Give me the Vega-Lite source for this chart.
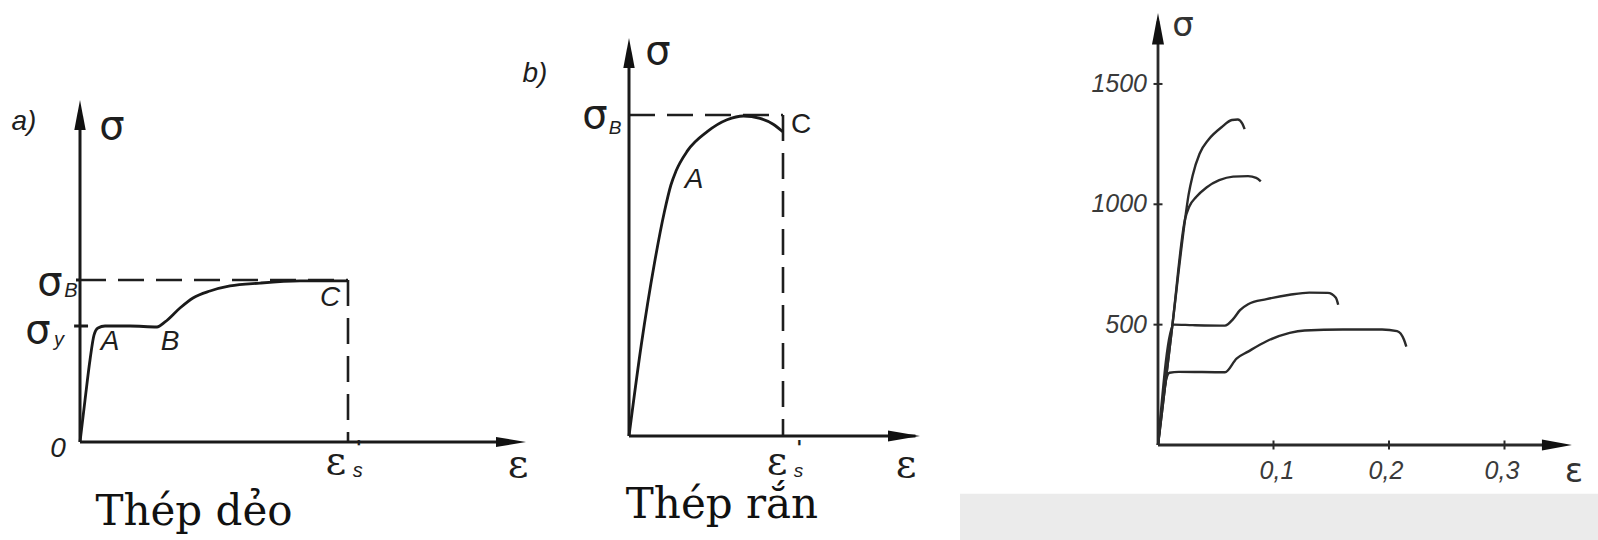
{
  "$schema": "https://vega.github.io/schema/vega-lite/v6.json",
  "padding": 0,
  "spacing": 0,
  "bounds": "flush",
  "background": "white",
  "config": {"view": {"stroke": null}},
  "datasets": {
    "a_curve": [
      {"e": 0, "s": 0}, {"e": 0.0187, "s": 0.259}, {"e": 0.0373, "s": 0.506}, {"e": 0.0522, "s": 0.66},
      {"e": 0.0672, "s": 0.704}, {"e": 0.0933, "s": 0.716}, {"e": 0.1866, "s": 0.716}, {"e": 0.2873, "s": 0.71},
      {"e": 0.3172, "s": 0.741}, {"e": 0.3731, "s": 0.827}, {"e": 0.4216, "s": 0.889}, {"e": 0.4851, "s": 0.932},
      {"e": 0.5597, "s": 0.963}, {"e": 0.6716, "s": 0.981}, {"e": 0.8209, "s": 0.994}, {"e": 0.9963, "s": 0.994}
    ],
    "a_dash": [{"e": 0, "s": 1, "e2": 1, "s2": 1}, {"e": 1, "s": 1, "e2": 1, "s2": 0}],
    "a_axes": [{"e": 0, "s": 0, "e2": 1.62, "s2": 0}, {"e": 0, "s": 0, "e2": 0, "s2": 2.05}, {"e": -0.022, "s": 0.716, "e2": 0.03, "s2": 0.716}, {"e": -0.015, "s": 1, "e2": 0, "s2": 1}],
    "a_arrow_x": [{"e": 1.6642, "s": 0}],
    "a_arrow_y": [{"e": 0, "s": 2.1111}],
    "a_sigma": [{"e": 0.1194, "s": 1.9444, "t": "σ"}, {"e": -0.1119, "s": 0.9815, "t": "σ"}, {"e": -0.1567, "s": 0.6852, "t": "σ"}],
    "a_eps": [{"e": 0.955, "s": -0.1235, "t": "ε"}, {"e": 1.6343, "s": -0.142, "t": "ε"}],
    "a_sub": [{"e": -0.0336, "s": 0.935, "t": "B"}, {"e": -0.0784, "s": 0.6296, "t": "y"}, {"e": 1.036, "s": -0.179, "t": "s"}],
    "a_sup": [{"e": 1.04, "s": -0.04, "t": "'"}],
    "a_ital": [{"e": -0.209, "s": 1.9753, "t": "a)"}, {"e": -0.0821, "s": -0.0432, "t": "0"}, {"e": 0.1119, "s": 0.6173, "t": "A"}, {"e": 0.3358, "s": 0.6173, "t": "B"}, {"e": 0.9328, "s": 0.8889, "t": "C"}],
    "a_title": [{"e": 0.4254, "s": -0.5123, "t": "Thép dẻo"}],

    "b_curve": [
      {"e": 0, "s": 0}, {"e": 0.0792, "s": 0.2819}, {"e": 0.1649, "s": 0.5374}, {"e": 0.2292, "s": 0.6969},
      {"e": 0.2721, "s": 0.7819}, {"e": 0.3045, "s": 0.8246}, {"e": 0.3792, "s": 0.8882}, {"e": 0.5078, "s": 0.948},
      {"e": 0.6364, "s": 0.985}, {"e": 0.7435, "s": 0.9969}, {"e": 0.8506, "s": 0.9894}, {"e": 0.9364, "s": 0.9713},
      {"e": 1.0006, "s": 0.947}
    ],
    "b_dash": [{"e": 0, "s": 1, "e2": 1, "s2": 1}, {"e": 1, "s": 1, "e2": 1, "s2": 0}],
    "b_axes": [{"e": 0, "s": 0, "e2": 1.86, "s2": 0}, {"e": 0, "s": 0, "e2": 0, "s2": 1.19}],
    "b_arrow_x": [{"e": 1.8896, "s": 0}],
    "b_arrow_y": [{"e": 0, "s": 1.2399}],
    "b_sigma": [{"e": 0.1883, "s": 1.1963, "t": "σ"}, {"e": -0.2208, "s": 0.9969, "t": "σ"}],
    "b_eps": [{"e": 0.962, "s": -0.081, "t": "ε"}, {"e": 1.7987, "s": -0.0903, "t": "ε"}],
    "b_sub": [{"e": -0.0909, "s": 0.9595, "t": "B"}, {"e": 1.1, "s": -0.109, "t": "s"}],
    "b_sup": [{"e": 1.106, "s": -0.038, "t": "'"}],
    "b_ital": [{"e": -0.6104, "s": 1.1277, "t": "b)"}, {"e": 0.4221, "s": 0.7975, "t": "A"}],
    "b_upright": [{"e": 1.1169, "s": 0.9688, "t": "C"}],
    "b_title": [{"e": 0.6039, "s": -0.2555, "t": "Thép rắn"}],

    "c_band": [{"e": -0.2, "e2": 0.4, "s": -203, "s2": -420}],
    "c_axes": [{"e": 0, "s": 0, "e2": 0.345, "s2": 0}, {"e": 0, "s": 0, "e2": 0, "s2": 1760}],
    "c_arrow_x": [{"e": 0.3584, "s": 0}],
    "c_arrow_y": [{"e": 0, "s": 1794.8}],
    "c_xticks": [{"e": 0.1, "s": 0}, {"e": 0.2, "s": 0}, {"e": 0.3, "s": 0}],
    "c_yticks": [{"e": 0, "s": 500}, {"e": 0, "s": 1000}, {"e": 0, "s": 1500}],
    "c_curves": [
      {"id": "c1", "e": 0, "s": 0}, {"id": "c1", "e": 0.0125, "s": 500}, {"id": "c1", "e": 0.0235, "s": 940},
      {"id": "c1", "e": 0.0265, "s": 1040}, {"id": "c1", "e": 0.03, "s": 1120}, {"id": "c1", "e": 0.036, "s": 1210},
      {"id": "c1", "e": 0.044, "s": 1270}, {"id": "c1", "e": 0.055, "s": 1320}, {"id": "c1", "e": 0.064, "s": 1350},
      {"id": "c1", "e": 0.069, "s": 1352}, {"id": "c1", "e": 0.073, "s": 1335}, {"id": "c1", "e": 0.075, "s": 1312},
      {"id": "c2", "e": 0, "s": 0}, {"id": "c2", "e": 0.0125, "s": 500}, {"id": "c2", "e": 0.0235, "s": 940},
      {"id": "c2", "e": 0.027, "s": 990}, {"id": "c2", "e": 0.033, "s": 1030}, {"id": "c2", "e": 0.042, "s": 1070},
      {"id": "c2", "e": 0.053, "s": 1100}, {"id": "c2", "e": 0.065, "s": 1115}, {"id": "c2", "e": 0.078, "s": 1117},
      {"id": "c2", "e": 0.085, "s": 1110}, {"id": "c2", "e": 0.089, "s": 1095},
      {"id": "c3", "e": 0, "s": 0}, {"id": "c3", "e": 0.0135, "s": 500}, {"id": "c3", "e": 0.03, "s": 498},
      {"id": "c3", "e": 0.058, "s": 496}, {"id": "c3", "e": 0.065, "s": 523}, {"id": "c3", "e": 0.071, "s": 560},
      {"id": "c3", "e": 0.078, "s": 585}, {"id": "c3", "e": 0.094, "s": 606}, {"id": "c3", "e": 0.114, "s": 624},
      {"id": "c3", "e": 0.131, "s": 633}, {"id": "c3", "e": 0.147, "s": 632}, {"id": "c3", "e": 0.154, "s": 612},
      {"id": "c3", "e": 0.156, "s": 583},
      {"id": "c4", "e": 0, "s": 0}, {"id": "c4", "e": 0.0075, "s": 280}, {"id": "c4", "e": 0.01, "s": 300},
      {"id": "c4", "e": 0.018, "s": 304}, {"id": "c4", "e": 0.058, "s": 302}, {"id": "c4", "e": 0.068, "s": 359},
      {"id": "c4", "e": 0.078, "s": 388}, {"id": "c4", "e": 0.094, "s": 431}, {"id": "c4", "e": 0.114, "s": 466},
      {"id": "c4", "e": 0.127, "s": 476}, {"id": "c4", "e": 0.16, "s": 480}, {"id": "c4", "e": 0.194, "s": 480},
      {"id": "c4", "e": 0.207, "s": 473}, {"id": "c4", "e": 0.213, "s": 437}, {"id": "c4", "e": 0.215, "s": 409}
    ],
    "c_ylabels": [{"e": -0.0095, "s": 1500, "t": "1500"}, {"e": -0.0095, "s": 1000, "t": "1000"}, {"e": -0.0095, "s": 500, "t": "500"}],
    "c_xlabels": [{"e": 0.103, "s": -108, "t": "0,1"}, {"e": 0.1974, "s": -108, "t": "0,2"}, {"e": 0.2978, "s": -108, "t": "0,3"}],
    "c_sym": [{"e": 0.0216, "s": 1740.8, "t": "σ"}, {"e": 0.3602, "s": -112, "t": "ε"}]
  },
  "hconcat": [
    {
      "width": 520,
      "height": 540,
      "encoding": {
        "x": {"field": "e", "type": "quantitative", "scale": {"domain": [-0.29851, 1.64179], "nice": false, "zero": false}, "axis": null},
        "y": {"field": "s", "type": "quantitative", "scale": {"domain": [-0.60494, 2.7284], "nice": false, "zero": false}, "axis": null}
      },
      "layer": [
        {"data": {"name": "a_dash"}, "mark": {"type": "rule", "strokeDash": [26, 12], "strokeWidth": 2.6, "color": "#1e1e1e"}, "encoding": {"x2": {"field": "e2"}, "y2": {"field": "s2"}}},
        {"data": {"name": "a_axes"}, "mark": {"type": "rule", "strokeWidth": 3, "color": "#1a1a1a"}, "encoding": {"x2": {"field": "e2"}, "y2": {"field": "s2"}}},
        {"data": {"name": "a_curve"}, "mark": {"type": "line", "interpolate": "monotone", "strokeWidth": 2.8, "color": "#1a1a1a"}},
        {"data": {"name": "a_arrow_x"}, "mark": {"type": "point", "shape": "M0,0L-2,-0.34L-2,0.34Z", "size": 900, "filled": true, "opacity": 1, "color": "#111111", "strokeWidth": 0}},
        {"data": {"name": "a_arrow_y"}, "mark": {"type": "point", "shape": "M0,0L-0.38,2L0.38,2Z", "size": 900, "filled": true, "opacity": 1, "color": "#111111", "strokeWidth": 0}},
        {"data": {"name": "a_sigma"}, "mark": {"type": "text", "font": "DejaVu Sans", "fontSize": 40, "color": "#1e1e1e", "baseline": "middle", "align": "center"}, "encoding": {"text": {"field": "t"}}},
        {"data": {"name": "a_eps"}, "mark": {"type": "text", "font": "DejaVu Serif", "fontSize": 40, "color": "#1e1e1e", "baseline": "middle", "align": "center"}, "encoding": {"text": {"field": "t"}}},
        {"data": {"name": "a_sub"}, "mark": {"type": "text", "font": "Liberation Sans", "fontStyle": "italic", "fontSize": 20, "color": "#1e1e1e", "baseline": "middle", "align": "center"}, "encoding": {"text": {"field": "t"}}},
        {"data": {"name": "a_sup"}, "mark": {"type": "text", "font": "DejaVu Sans", "fontWeight": "bold", "fontSize": 20, "color": "#1e1e1e", "baseline": "middle", "align": "center"}, "encoding": {"text": {"field": "t"}}},
        {"data": {"name": "a_ital"}, "mark": {"type": "text", "font": "Liberation Sans", "fontStyle": "italic", "fontSize": 28, "color": "#1e1e1e", "baseline": "middle", "align": "center"}, "encoding": {"text": {"field": "t"}}},
        {"data": {"name": "a_title"}, "mark": {"type": "text", "font": "DejaVu Serif", "fontSize": 42, "color": "#111111", "baseline": "alphabetic", "align": "center"}, "encoding": {"text": {"field": "t"}}}
      ]
    },
    {
      "width": 440,
      "height": 540,
      "encoding": {
        "x": {"field": "e", "type": "quantitative", "scale": {"domain": [-0.70779, 2.14935], "nice": false, "zero": false}, "axis": null},
        "y": {"field": "s", "type": "quantitative", "scale": {"domain": [-0.32399, 1.35826], "nice": false, "zero": false}, "axis": null}
      },
      "layer": [
        {"data": {"name": "b_dash"}, "mark": {"type": "rule", "strokeDash": [26, 12], "strokeWidth": 2.6, "color": "#1e1e1e"}, "encoding": {"x2": {"field": "e2"}, "y2": {"field": "s2"}}},
        {"data": {"name": "b_axes"}, "mark": {"type": "rule", "strokeWidth": 3, "color": "#1a1a1a"}, "encoding": {"x2": {"field": "e2"}, "y2": {"field": "s2"}}},
        {"data": {"name": "b_curve"}, "mark": {"type": "line", "interpolate": "monotone", "strokeWidth": 2.8, "color": "#1a1a1a"}},
        {"data": {"name": "b_arrow_x"}, "mark": {"type": "point", "shape": "M0,0L-2,-0.34L-2,0.34Z", "size": 1024, "filled": true, "opacity": 1, "color": "#111111", "strokeWidth": 0}},
        {"data": {"name": "b_arrow_y"}, "mark": {"type": "point", "shape": "M0,0L-0.38,2L0.38,2Z", "size": 900, "filled": true, "opacity": 1, "color": "#111111", "strokeWidth": 0}},
        {"data": {"name": "b_sigma"}, "mark": {"type": "text", "font": "DejaVu Sans", "fontSize": 40, "color": "#1e1e1e", "baseline": "middle", "align": "center"}, "encoding": {"text": {"field": "t"}}},
        {"data": {"name": "b_eps"}, "mark": {"type": "text", "font": "DejaVu Serif", "fontSize": 40, "color": "#1e1e1e", "baseline": "middle", "align": "center"}, "encoding": {"text": {"field": "t"}}},
        {"data": {"name": "b_sub"}, "mark": {"type": "text", "font": "Liberation Sans", "fontStyle": "italic", "fontSize": 19, "color": "#1e1e1e", "baseline": "middle", "align": "center"}, "encoding": {"text": {"field": "t"}}},
        {"data": {"name": "b_sup"}, "mark": {"type": "text", "font": "DejaVu Sans", "fontWeight": "bold", "fontSize": 20, "color": "#1e1e1e", "baseline": "middle", "align": "center"}, "encoding": {"text": {"field": "t"}}},
        {"data": {"name": "b_ital"}, "mark": {"type": "text", "font": "Liberation Sans", "fontStyle": "italic", "fontSize": 28, "color": "#1e1e1e", "baseline": "middle", "align": "center"}, "encoding": {"text": {"field": "t"}}},
        {"data": {"name": "b_upright"}, "mark": {"type": "text", "font": "Liberation Sans", "fontSize": 28, "color": "#1e1e1e", "baseline": "middle", "align": "center"}, "encoding": {"text": {"field": "t"}}},
        {"data": {"name": "b_title"}, "mark": {"type": "text", "font": "DejaVu Serif", "fontSize": 42, "color": "#111111", "baseline": "alphabetic", "align": "center"}, "encoding": {"text": {"field": "t"}}}
      ]
    },
    {
      "width": 638,
      "height": 540,
      "encoding": {
        "x": {"field": "e", "type": "quantitative", "scale": {"domain": [-0.171429, 0.380952], "nice": false, "zero": false}, "axis": null},
        "y": {"field": "s", "type": "quantitative", "scale": {"domain": [-394.68, 1848.77], "nice": false, "zero": false}, "axis": null}
      },
      "layer": [
        {"data": {"name": "c_band"}, "mark": {"type": "rect", "clip": true, "color": "#ebebeb"}, "encoding": {"x2": {"field": "e2"}, "y2": {"field": "s2"}}},
        {"data": {"name": "c_axes"}, "mark": {"type": "rule", "strokeWidth": 2.8, "color": "#2a2a2a"}, "encoding": {"x2": {"field": "e2"}, "y2": {"field": "s2"}}},
        {"data": {"name": "c_xticks"}, "mark": {"type": "tick", "orient": "vertical", "size": 9, "thickness": 2, "color": "#2a2a2a", "opacity": 1}},
        {"data": {"name": "c_yticks"}, "mark": {"type": "tick", "orient": "horizontal", "size": 9, "thickness": 2, "color": "#2a2a2a", "opacity": 1}},
        {"data": {"name": "c_curves"}, "mark": {"type": "line", "interpolate": "monotone", "strokeWidth": 2.4, "color": "#2a2a2a"}, "encoding": {"detail": {"field": "id"}}},
        {"data": {"name": "c_arrow_x"}, "mark": {"type": "point", "shape": "M0,0L-2,-0.36L-2,0.36Z", "size": 900, "filled": true, "opacity": 1, "color": "#111111", "strokeWidth": 0}},
        {"data": {"name": "c_arrow_y"}, "mark": {"type": "point", "shape": "M0,0L-0.38,2L0.38,2Z", "size": 1000, "filled": true, "opacity": 1, "color": "#111111", "strokeWidth": 0}},
        {"data": {"name": "c_ylabels"}, "mark": {"type": "text", "font": "Liberation Sans", "fontStyle": "italic", "fontSize": 25, "color": "#3a3a3a", "baseline": "middle", "align": "right"}, "encoding": {"text": {"field": "t"}}},
        {"data": {"name": "c_xlabels"}, "mark": {"type": "text", "font": "Liberation Sans", "fontStyle": "italic", "fontSize": 25, "color": "#3a3a3a", "baseline": "middle", "align": "center"}, "encoding": {"text": {"field": "t"}}},
        {"data": {"name": "c_sym"}, "mark": {"type": "text", "font": "DejaVu Sans", "fontSize": 34, "color": "#333333", "baseline": "middle", "align": "center"}, "encoding": {"text": {"field": "t"}}}
      ]
    }
  ]
}
